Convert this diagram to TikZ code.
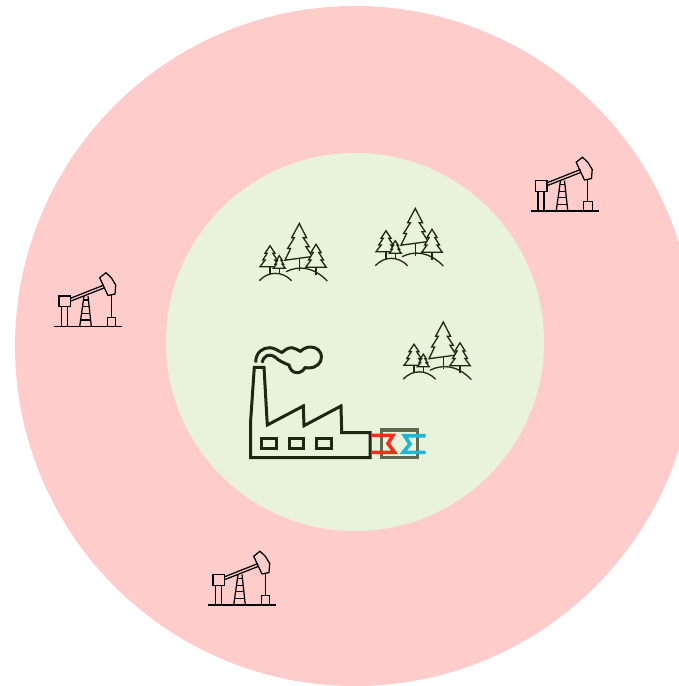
\documentclass[tikz,border=0pt]{standalone}
\definecolor{outerpink}{HTML}{FFCCCC}
\definecolor{innergreen}{HTML}{E9F3DC}
\definecolor{inkgreen}{HTML}{1D2810}
\definecolor{hxgray}{HTML}{5F6A50}
\definecolor{hotred}{HTML}{F0301A}
\definecolor{coldblue}{HTML}{1FB5D5}
\tikzset{
  pumpline/.style={draw=black,line width=1.25pt,line join=miter},
  treeline/.style={draw=inkgreen,line width=1.3pt,line join=miter},
  factoryline/.style={draw=inkgreen,line width=3pt,line join=miter},
  smokeline/.style={draw=inkgreen,line width=3pt,line cap=butt,line join=round},
  pipeline/.style={line width=3.6pt,line join=miter},
}
% apex x, apex y, half width, height (in pixels)
\newcommand{\onetree}[4]{%
  \begin{scope}[shift={(#1,#2)},x=#3pt,y=-#4pt]
    \draw[treeline,fill=innergreen] (0,0) -- (.5,.36) -- (.28,.36) -- (.72,.68) -- (.48,.68) -- (1,1)
      -- (-1,1) -- (-.48,.68) -- (-.72,.68) -- (-.28,.36) -- (-.5,.36) -- cycle;
  \end{scope}}
\newcommand{\treegroup}[2]{%
  \begin{scope}[shift={(#1,#2)}]
    \draw[treeline] (0,24) -- (0,36);
    \draw[treeline,fill=innergreen] (0,-11) -- (7.3,3.3) -- (4,3.3) -- (10,12.3) -- (6.7,12.3)
       -- (13,22) -- (-14.3,25.7) -- (-8.7,14) -- (-11.7,14) -- (-5,3.3) -- (-7.7,3.3) -- cycle;
    \draw[treeline] (-40,46.2) .. controls (-31,36.4) and (-17,36.4) .. (-7.7,46.2);
    \draw[treeline] (-13.3,37.2) .. controls (-1,31) and (14,32) .. (28,46.5);
    \draw[treeline] (-29.3,32) -- (-29.3,39.8);
    \draw[treeline] (-20,33.8) -- (-20,39);
    \draw[treeline] (16.7,32.8) -- (16.7,40);
  \end{scope}
  \onetree{#1-29.3}{#2+11.2}{10}{21}
  \onetree{#1-20}{#2+21.2}{6}{12.6}
  \onetree{#1+16.7}{#2+9.8}{10.3}{23}
}
\newcommand{\pumpjack}[2]{%
  \begin{scope}[shift={(#1,#2)}]
    \draw[pumpline] (54,326.5) -- (122,326.5);
    \draw[pumpline] (59,296) rectangle (70.5,306.7);
    \draw[pumpline] (61.5,306.7) -- (61.5,326.5) (67.5,306.7) -- (67.5,326.5);
    \draw[pumpline] (70.5,298.3) -- (104,285) (70.5,301.2) -- (104,288);
    \draw[pumpline] (99.7,277.7) -- (106,272.7) -- (111.5,278) -- (115.7,285) -- (115,294) -- (108,295.5) -- (103,285) -- cycle;
    \draw[pumpline] (84,296) -- (79.7,326.5) (88,296) -- (91.3,326.5);
    \draw[pumpline] (83.5,300) -- (88.5,300) (82.5,306.7) -- (89.2,306.7) (81.7,313.3) -- (90,313.3) (80.7,320) -- (90.7,320);
    \draw[pumpline] (111.3,295) -- (111.3,317.3);
    \draw[pumpline] (107.3,317.3) rectangle (115.7,326.5);
  \end{scope}}
\begin{document}
\begin{tikzpicture}[x=1pt,y=-1pt]
  \useasboundingbox (0,0) rectangle (679,686);
  \clip (0,0) rectangle (679,686);
  \fill[white] (0,0) rectangle (679,686);
  \fill[outerpink] (355,346) circle[radius=340pt];
  \fill[innergreen] (355,342) circle[radius=189pt];
  \pumpjack{0}{0}
  \pumpjack{476.5}{-115.5}
  \pumpjack{154}{278.5}
  \treegroup{299.3}{234.5}
  \treegroup{415.3}{219.5}
  \treegroup{443.3}{333}
  % factory
  \draw[factoryline] (254.3,367.3) -- (264,367.3) -- (267.3,425) -- (303.3,406) -- (304,425.7)
    -- (341,406) -- (341.7,432.7) -- (370,432.7) -- (370,457.7) -- (250.7,457.7) -- (250.7,420) -- cycle;
  \draw[factoryline] (261.7,438.8) rectangle (276,448.4);
  \draw[factoryline] (289.3,438.8) rectangle (303.3,448.4);
  \draw[factoryline] (316.7,438.8) rectangle (331,448.4);
  \draw[smokeline] (255.7,362.5) .. controls (255.7,352) and (263,347.5) .. (270,347.7)
    .. controls (275,348) and (278,351) .. (282,352.5)
    .. controls (285,350) and (288,347.5) .. (292,347.7)
    .. controls (295,348) and (298,350) .. (300.5,351.5)
    .. controls (303,348.5) and (307,347) .. (310.5,347)
    .. controls (317,347) and (321.5,351.5) .. (321.5,357)
    .. controls (321.5,364) and (315,368) .. (309,368)
    .. controls (307,368) and (306,367.5) .. (305,367.5)
    .. controls (303.5,371) and (300,372.7) .. (297,372.7)
    .. controls (293,372.7) and (290,369.5) .. (289,365)
    .. controls (284,363) and (279,361) .. (275,357)
    .. controls (272,355) and (269,354.7) .. (267,355.5)
    .. controls (264,357) and (262.5,360) .. (262,362.7);
  % heat exchanger
  \draw[draw=hxgray,line width=3.4pt] (381.5,430) rectangle (417.2,457.6);
  \draw[pipeline,hotred] (371.7,435.3) -- (393,435.3) -- (388,443.5) -- (394.5,452.3) -- (371.7,452.3);
  \draw[pipeline,coldblue] (425.7,435.7) -- (404.5,435.7) -- (410,444) -- (403.3,452.3) -- (425.7,452.3);
\end{tikzpicture}
\end{document}
